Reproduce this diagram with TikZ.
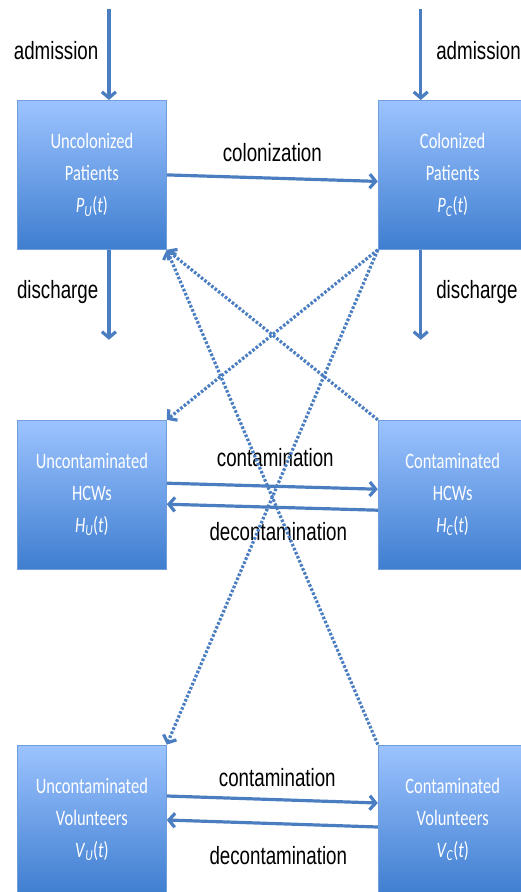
\documentclass[tikz,border=0pt]{standalone}
\usepackage{fontspec}
\usepackage{graphicx}
\newfontfamily\boxfont{Carlito}
\newfontfamily\lblfont{Liberation Sans}
\usetikzlibrary{arrows.meta,positioning}
\definecolor{arrowblue}{HTML}{4A7EC0}
\definecolor{boxtop}{HTML}{9CC3FF}
\definecolor{boxbottom}{HTML}{3F7ED0}
\definecolor{boxline}{HTML}{6E9EDC}
\newcommand{\squash}[1]{\scalebox{.75}[1]{#1}}

\begin{document}
\begin{tikzpicture}[x=1pt,y=-1pt,
  compartment/.style={draw=boxline,line width=0.8pt,top color=boxtop,bottom color=boxbottom,minimum width=149pt,minimum height=149pt,inner sep=0pt,align=center,text=white,font=\boxfont\fontsize{22}{32}\selectfont},
  flow/.style={draw=arrowblue,line width=3.2pt,-{Straight Barb[length=6pt,width=14pt]}},
  link/.style={draw=arrowblue,line width=3.2pt,dash pattern=on 2.6pt off 1.8pt,-{Straight Barb[length=6pt,width=14pt]}},
  lbl/.style={font=\lblfont\fontsize{25}{30}\selectfont,inner sep=0pt,text=black}]
  \useasboundingbox (0,0) rectangle (520,892);
  % compartments
  \node[compartment,anchor=north west] (PU) at (17,100) {\squash{Uncolonized}\\\squash{Patients}\\\squash{\textit{P}\textsubscript{\textit{U}}(\textit{t})}};
  \node[compartment,right=211pt of PU] (PC) {\squash{Colonized}\\\squash{Patients}\\\squash{\textit{P}\textsubscript{\textit{C}}(\textit{t})}};
  \node[compartment,below=170pt of PU] (HU) {\squash{Uncontaminated}\\\squash{HCWs}\\\squash{\textit{H}\textsubscript{\textit{U}}(\textit{t})}};
  \node[compartment,right=211pt of HU] (HC) {\squash{Contaminated}\\\squash{HCWs}\\\squash{\textit{H}\textsubscript{\textit{C}}(\textit{t})}};
  \node[compartment,below=175pt of HU] (VU) {\squash{Uncontaminated}\\\squash{Volunteers}\\\squash{\textit{V}\textsubscript{\textit{U}}(\textit{t})}};
  \node[compartment,right=211pt of VU] (VC) {\squash{Contaminated}\\\squash{Volunteers}\\\squash{\textit{V}\textsubscript{\textit{C}}(\textit{t})}};
  % admission / discharge
  \coordinate (admU) at ([xshift=17pt,yshift=91pt]PU.north);
  \coordinate (disU) at ([xshift=17pt,yshift=-90pt]PU.south);
  \coordinate (admC) at ([xshift=-32pt,yshift=91pt]PC.north);
  \coordinate (disC) at ([xshift=-32pt,yshift=-90pt]PC.south);
  \draw[flow] (admU) -- node[lbl,pos=.46,left=9pt]{\squash{admission}} (admU |- PU.north);
  \draw[flow] (admU |- PU.south) -- node[lbl,pos=.47,left=9pt]{\squash{discharge}} (disU);
  \draw[flow] (admC) -- node[lbl,pos=.46,right=14pt]{\squash{admission}} (admC |- PC.north);
  \draw[flow] (admC |- PC.south) -- node[lbl,pos=.47,right=14pt]{\squash{discharge}} (disC);
  % transitions
  \draw[flow] (PU.east) -- node[lbl,above=14.5pt]{\squash{colonization}} ([yshift=-6.5pt]PC.west);
  \draw[flow] ([yshift=11.5pt]HU.east) -- node[lbl,above=18pt,xshift=3pt]{\squash{contamination}} ([yshift=5.5pt]HC.west);
  \draw[flow] ([yshift=-15.5pt]HC.west) -- node[lbl,below=14pt,xshift=6pt]{\squash{decontamination}} ([yshift=-9.5pt]HU.east);
  \draw[flow] ([yshift=23.5pt]VU.east) -- node[lbl,above=11.5pt,xshift=5pt]{\squash{contamination}} ([yshift=16.5pt]VC.west);
  \draw[flow] ([yshift=-7.5pt]VC.west) -- node[lbl,below=21.5pt,xshift=6pt]{\squash{decontamination}} ([yshift=-0.5pt]VU.east);
  % transmission
  \draw[link] (PC.south west) -- (HU.north east);
  \draw[link] (PC.south west) -- (VU.north east);
  \draw[link] (HC.north west) -- (PU.south east);
  \draw[link] (VC.north west) -- (PU.south east);
\end{tikzpicture}
\end{document}
